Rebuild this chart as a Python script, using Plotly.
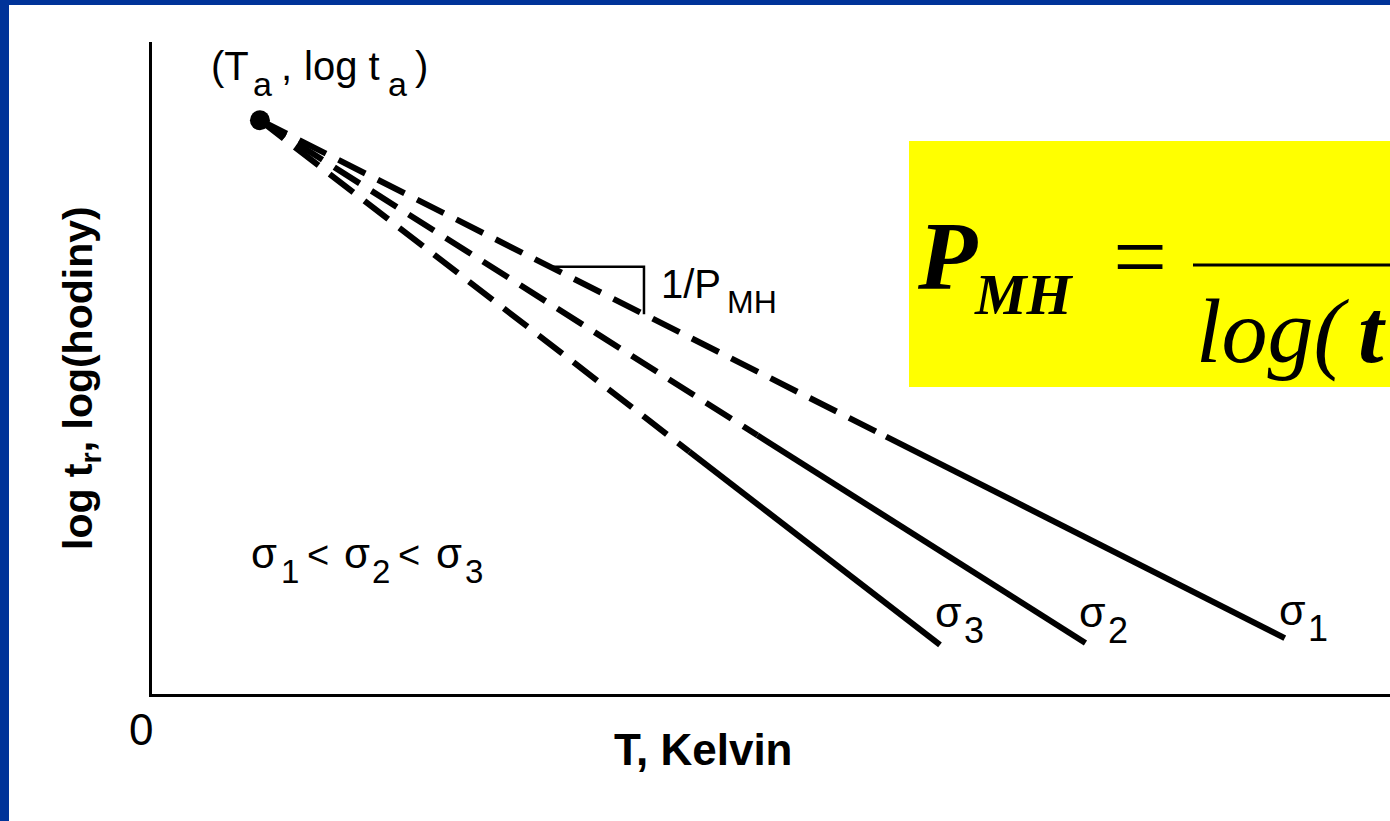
import plotly.graph_objects as go

# ---------------------------------------------------------------
# Larson-Miller / Manson-Haferd style schematic: log t_r vs. T
# (schematic units: temperature along x, log rupture time along y)
# ---------------------------------------------------------------
stress_labels = ["σ", "σ", "σ"]
stress_index = ["1", "2", "3"]

anchor_T = 8.72          # converging point (T_a, log t_a)
anchor_logt = 44.0

end_T = [91.5, 75.4, 63.65]       # end of each measured (solid) line
end_logt = [4.29, 3.91, 3.76]
break_T = [59.3, 48.9, 43.4]      # where the extrapolated (dashed) part meets the data
break_logt = [19.74, 19.84, 18.59]

slope_T = [32.15, 39.74, 39.74]   # slope triangle 1/P_MH on the σ1 line
slope_logt = [32.76, 32.76, 29.12]

x_range = [0, 100]
y_range = [0, 50]

# ---------------------------------------------------------------
W, H = 1390, 821
AX_LEFT, AX_BOTTOM, AX_TOP = 152, 694, 42
SANS = "Liberation Sans, Arial, sans-serif"
SERIF = "Liberation Serif, Times New Roman, serif"
BLUE = "#003399"

fig = go.Figure()

for i in range(len(end_T)):
    fig.add_trace(go.Scatter(
        x=[anchor_T, break_T[i]], y=[anchor_logt, break_logt[i]],
        mode="lines", line=dict(color="black", width=6, dash="30px,14px"),
        hoverinfo="skip", showlegend=False))
    fig.add_trace(go.Scatter(
        x=[break_T[i], end_T[i]], y=[break_logt[i], end_logt[i]],
        mode="lines", line=dict(color="black", width=6),
        hoverinfo="skip", showlegend=False))

fig.add_trace(go.Scatter(
    x=slope_T, y=slope_logt, mode="lines",
    line=dict(color="black", width=2.5), hoverinfo="skip", showlegend=False))

fig.add_trace(go.Scatter(
    x=[anchor_T], y=[anchor_logt], mode="markers",
    marker=dict(color="black", size=20), hoverinfo="skip", showlegend=False))


def px(x, y):
    return x / W, 1 - y / H


def text(s, x, base, size, family=SANS, weight="normal", style="normal",
         xanchor="left"):
    """Place a text run with its left edge at x and its baseline at base (pixels)."""
    xp, yp = px(x, base - 0.35 * size)
    fig.add_annotation(
        text=s, x=xp, y=yp, xref="paper", yref="paper",
        xanchor=xanchor, yanchor="middle", showarrow=False, borderpad=0,
        font=dict(family=family, size=size, color="black",
                  weight=weight, style=style))


# point label (T_a , log t_a)
text("(T", 210, 80, 40)
text("a", 252, 96, 34)
text(",", 280, 80, 40)
text("log t", 303, 80, 40)
text("a", 387, 96, 34)
text(")", 414, 80, 40)

# slope label 1/P_MH
text("1/P", 660, 298, 40)
text("MH", 726, 313, 32)

# line labels
lab_x = [1278, 1078, 934]
lab_base = [625, 627, 627]
for i in range(3):
    text(stress_labels[i], lab_x[i], lab_base[i], 43)
    text(stress_index[i], lab_x[i] + 29, lab_base[i] + 16, 36)

# ordering of stresses
text("σ", 250, 568, 42)
text("1", 280, 583, 33)
text("<", 306, 568, 38)
text("σ", 343, 568, 42)
text("2", 371, 583, 33)
text("<", 397, 568, 38)
text("σ", 435, 568, 42)
text("3", 464, 583, 33)

# axis texts
text("0", 141, 745, 44, xanchor="center")
text("T, Kelvin", 703, 765, 44, weight="bold", xanchor="center")
xp, yp = px(81, 378)
fig.add_annotation(
    text="log t<sub>r</sub>, log(hodiny)", x=xp, y=yp, xref="paper", yref="paper",
    xanchor="center", yanchor="middle", showarrow=False, textangle=-90,
    font=dict(family=SANS, size=41, color="black", weight="bold"))

# formula box
text("P", 916, 290, 97, family=SERIF, weight="bold", style="italic")
text("MH", 973, 315, 58, family=SERIF, weight="bold", style="italic")
text("=", 1112, 290, 96, family=SERIF)
text("log(", 1195, 363, 92, family=SERIF, style="italic")
text("t", 1357, 363, 92, family=SERIF, weight="bold", style="italic")

shapes = [
    # yellow formula panel
    dict(type="rect", xref="paper", yref="paper",
         x0=909 / W, x1=1.02, y0=1 - 387 / H, y1=1 - 141 / H,
         fillcolor="#ffff00", line=dict(width=0), layer="below"),
    # fraction bar
    dict(type="line", xref="paper", yref="paper",
         x0=1193 / W, x1=1.0, y0=1 - 265 / H, y1=1 - 265 / H,
         line=dict(color="black", width=3)),
    # slide frame
    dict(type="rect", xref="paper", yref="paper",
         x0=0, x1=9 / W, y0=0, y1=1, fillcolor=BLUE, line=dict(width=0)),
    dict(type="rect", xref="paper", yref="paper",
         x0=0, x1=1, y0=1 - 5 / H, y1=1, fillcolor=BLUE, line=dict(width=0)),
]

axis_common = dict(showline=True, linecolor="black", linewidth=3,
                   showticklabels=False, ticks="", showgrid=False,
                   zeroline=False, fixedrange=True)

fig.update_layout(
    width=W, height=H, margin=dict(l=0, r=0, t=0, b=0),
    paper_bgcolor="white", plot_bgcolor="white", showlegend=False,
    xaxis=dict(domain=[AX_LEFT / W, 1], range=x_range, **axis_common),
    yaxis=dict(domain=[1 - AX_BOTTOM / H, 1 - AX_TOP / H], range=y_range,
               **axis_common),
    shapes=shapes,
)

fig.write_html("out.html", config={"displayModeBar": False})
